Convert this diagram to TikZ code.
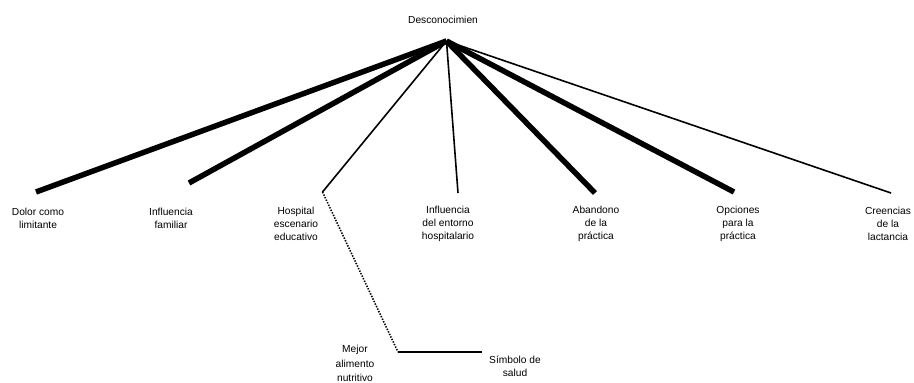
\documentclass[tikz,border=0pt]{standalone}
\usepackage{fontspec}
\setmainfont{Liberation Sans}
\begin{document}
\begin{tikzpicture}[x=1pt,y=-1pt,
  lbl/.style={align=center,inner sep=0pt,font=\fontsize{10.2}{12.8}\selectfont},
  heavy/.style={line width=5.5pt},
  light/.style={line width=1.6pt},
  dots/.style={line width=1.6pt,dash pattern=on 1.4pt off 1.4pt}]
\useasboundingbox (0,0) rectangle (914,383);
% root and branch ends
\coordinate (root) at (446.5,41);
\node[lbl] (top) at (443,20) {Desconocimien};
\coordinate (e1) at (36,192);
\coordinate (e2) at (189,183);
\coordinate (e3) at (322.5,192);
\coordinate (e4) at (458,193);
\coordinate (e5) at (595,193);
\coordinate (e6) at (734,192);
\coordinate (e7) at (891,193);
\coordinate (e8) at (398,352);
\coordinate (e9) at (482,352);
% labels
\node[lbl] (l1) at (38,218) {Dolor como\\limitante};
\node[lbl] (l2) at (171,218) {Influencia\\familiar};
\node[lbl] (l3) at (296,224) {Hospital\\escenario\\educativo};
\node[lbl] (l4) at (448,224) {Influencia\\del entorno\\hospitalario};
\node[lbl] (l5) at (596,224) {Abandono\\de la\\práctica};
\node[lbl] (l6) at (738,224) {Opciones\\para la\\práctica};
\node[lbl] (l7) at (888,224) {Creencias\\de la\\lactancia};
\node[lbl,font=\fontsize{10.2}{14.6}\selectfont] (l8) at (355,363.5) {Mejor\\alimento\\nutritivo};
\node[lbl] (l9) at (515,366) {Símbolo de\\salud};
% connectors
\draw[heavy] (root) -- (e1);
\draw[heavy] (root) -- (e2);
\draw[light] (root) -- (e3);
\draw[light] (root) -- (e4);
\draw[heavy] (root) -- (e5);
\draw[heavy] (root) -- (e6);
\draw[light] (root) -- (e7);
\draw[dots] (e3) -- (e8);
\draw[light] (e8) -- (e9);
\end{tikzpicture}
\end{document}
